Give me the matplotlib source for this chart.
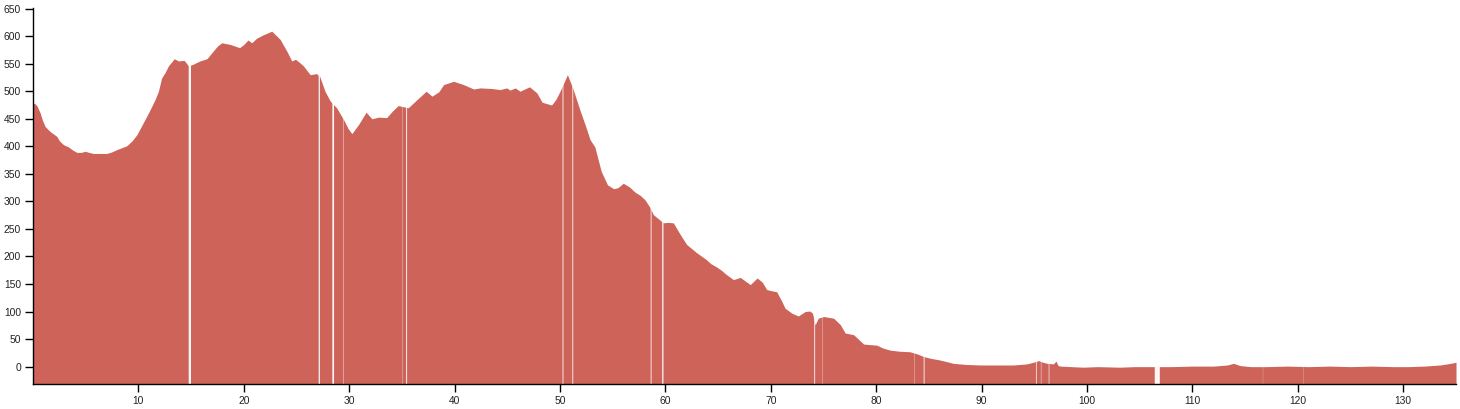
import matplotlib
matplotlib.use("Agg")
import matplotlib.pyplot as plt
import numpy as np

distance_km = [
    0.0, 0.2, 0.36, 0.5, 0.67, 0.9, 1.15, 1.4, 1.62, 1.9, 2.26, 2.5, 2.89, 3.36, 3.7,
    4.15, 4.6, 4.94, 5.3, 5.73, 6.4, 7.0, 7.5, 7.95, 8.9, 9.4, 9.85, 10.3, 10.8, 11.2,
    11.58, 11.9, 12.2, 12.5, 12.85, 13.4, 13.8, 14.34, 14.75, 15.2, 15.5, 15.85, 16.5,
    17.1, 17.5, 17.9, 18.7, 19.6, 20.0, 20.4, 20.75, 21.2, 21.8, 22.65, 23.45, 24.1,
    24.55, 24.9, 25.3, 25.65, 26.3, 26.9, 27.2, 27.7, 28.2, 28.8, 29.45, 29.9, 30.25,
    30.9, 31.6, 32.15, 32.8, 33.55, 34.1, 34.65, 35.1, 35.6, 36.5, 37.3, 37.85, 38.5,
    38.95, 39.9, 40.85, 41.8, 42.4, 43.5, 44.3, 44.95, 45.25, 45.75, 46.2, 47.1, 47.8,
    48.3, 49.2, 49.6, 50.0, 50.35, 50.7, 51.2, 51.9, 52.4, 52.85, 53.3, 53.9, 54.5,
    55.1, 55.5, 56.0, 56.6, 57.1, 57.6, 58.05, 58.5, 58.85, 59.3, 59.8, 60.2, 60.75,
    61.4, 62.0, 62.95, 63.9, 64.3, 64.85, 65.3, 65.8, 66.45, 67.1, 67.6, 68.05, 68.7,
    69.2, 69.6, 70.0, 70.55, 71.0, 71.35, 72.0, 72.6, 73.25, 73.7, 73.95, 74.2, 74.5,
    75.0, 75.95, 76.6, 77.05, 77.85, 78.3, 78.8, 79.4, 80.05, 80.6, 81.3, 82.2, 83.2,
    83.9, 84.55, 85.2, 86.05, 86.7, 87.3, 88.5, 89.85, 91.5, 93.0, 94.3, 94.9, 95.4,
    95.8, 96.2, 96.8, 97.05, 97.25, 97.45, 98.5, 99.6, 101.0, 103.1, 104.5, 106.0,
    108.0, 110.0, 112.0, 113.3, 113.9, 114.5, 115.5, 117.0, 119.0, 121.0, 123.0, 125.0,
    127.0, 129.0, 130.5, 132.0, 133.5, 134.5, 135.0,
]
elevation_m = [
    479, 477, 474, 468, 461, 447, 436, 431, 427, 423, 418, 410, 403, 399, 394,
    389, 389, 391, 389, 387, 387, 387, 390, 394, 401, 410, 421, 437, 455, 470,
    485, 500, 524, 533, 546, 559, 555, 556, 546, 549, 552, 555, 559,
    573, 582, 588, 585, 579, 585, 593, 588, 596, 602, 609, 594, 572,
    555, 558, 552, 546, 530, 532, 527, 500, 482, 470, 449, 432, 423,
    440, 462, 450, 453, 452, 464, 474, 472, 470, 486, 500, 491, 499,
    512, 518, 512, 504, 506, 505, 503, 506, 502, 506, 500, 508, 497,
    480, 475, 485, 500, 515, 530, 506, 465, 438, 412, 399, 355, 330,
    323, 325, 333, 326, 317, 311, 303, 290, 276, 269, 261, 262, 261,
    240, 222, 207, 194, 187, 181, 175, 167, 158, 162, 155, 149, 161,
    153, 140, 138, 136, 120, 106, 97, 92, 100, 101, 97, 76, 88,
    91, 88, 76, 61, 58, 50, 41, 40, 39, 34, 30, 28, 27,
    23, 18, 15, 12, 9, 6, 4, 3, 3, 3, 5, 8, 11,
    8, 6, 5, 10, 2, 1, 0, -1, 0, -1, 0, 0,
    0, 1, 1, 3, 6, 2, 0, 0, 1, 0, 1, 0,
    1, 0, 0, 1, 3, 6, 8,
]

# missing-data intervals (km) shown as white gaps in the profile
gap_start_km = [14.77, 27.1, 28.4, 29.43, 35.07, 35.4, 50.24, 51.17, 58.6, 59.69,
                74.12, 74.86, 83.58, 84.5, 95.15, 95.62, 96.36, 106.42, 116.68, 120.5]
gap_end_km = [14.99, 27.22, 28.56, 29.47, 35.1, 35.49, 50.32, 51.25, 58.68, 59.81,
              74.2, 74.89, 83.61, 84.58, 95.22, 95.66, 96.42, 106.9, 116.7, 120.52]

x_ticks = list(range(10, 131, 10))
y_ticks = list(range(0, 651, 50))

FILL = "#CD6359"

fig = plt.figure(figsize=(14.6, 4.09), dpi=100)
ax = fig.add_axes([33 / 1460, 1 - 384 / 409, (1456 - 33) / 1460, (384 - 7.5) / 409])

y_min, y_max = -31.5, 652
ax.fill_between(distance_km, elevation_m, y_min - 20, color=FILL, linewidth=0)
for s, e in zip(gap_start_km, gap_end_km):
    span = ax.axvspan(s, e, color="white", linewidth=0, alpha=0.95)
    span.set_snap(False)

ax.set_xlim(0, 135)
ax.set_ylim(y_min, y_max)
ax.set_xticks(x_ticks)
ax.set_yticks(y_ticks)
ax.set_xticklabels([str(t) for t in x_ticks])
ax.set_yticklabels([str(t) for t in y_ticks])

for side in ("top", "right"):
    ax.spines[side].set_visible(False)
for side in ("left", "bottom"):
    ax.spines[side].set_color("#000000")
    ax.spines[side].set_linewidth(1.0)

ax.tick_params(axis="both", direction="out", length=6, width=1, color="#000000",
               labelsize=7.4, labelcolor="#222222", pad=2.5)
for lab in ax.get_xticklabels() + ax.get_yticklabels():
    lab.set_fontfamily("Liberation Sans")

fig.savefig("out.png", dpi=100, facecolor="white")
